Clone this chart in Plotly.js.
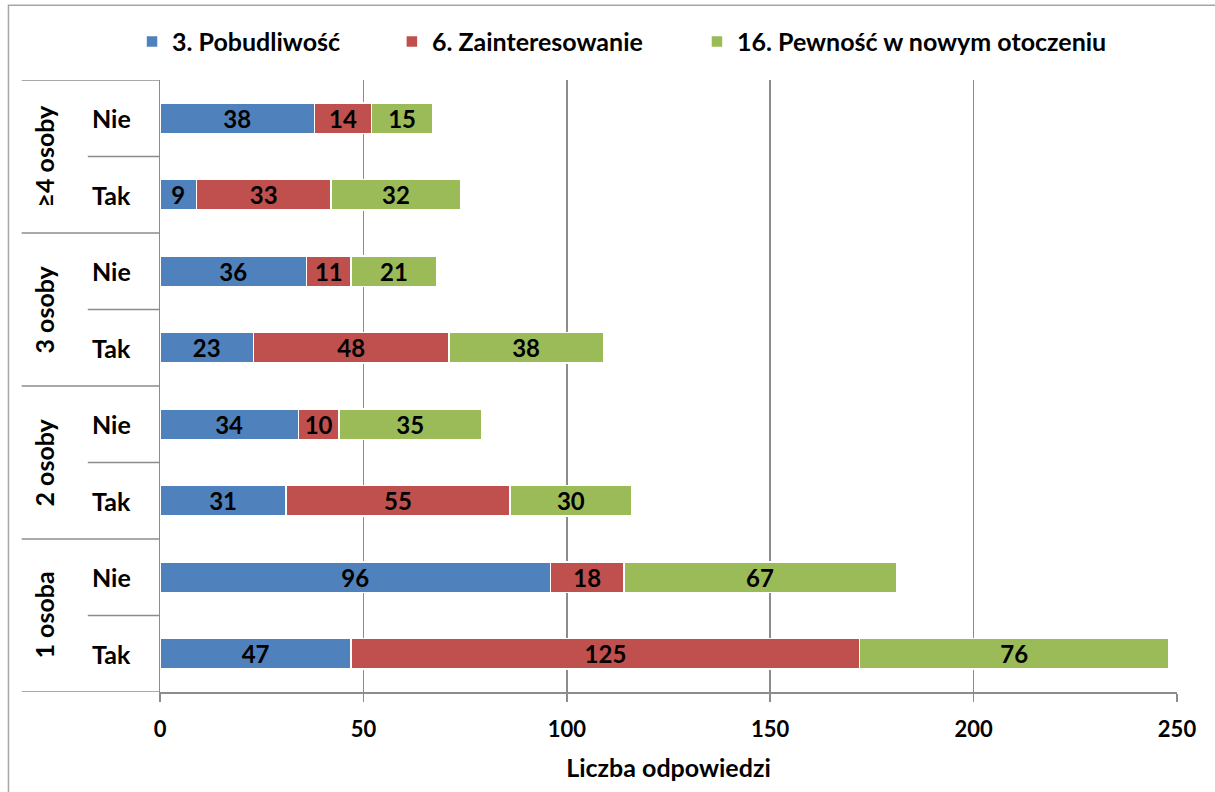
<!DOCTYPE html>
<html><head><meta charset="utf-8">
<script src="https://cdn.plot.ly/plotly-3.0.1.min.js"></script>
<style>html,body{margin:0;padding:0;background:#fff}#chart{width:1215px;height:792px}</style>
</head><body><div id="chart"></div>
<script>
const groups = ["1 osoba","2 osoby","3 osoby","≥4 osoby"];
const subs = ["Tak","Nie"];
const seriesNames = ["3. Pobudliwość","6. Zainteresowanie","16. Pewność w nowym otoczeniu"];
const pobudliwosc = [47,96,31,34,23,36,9,38];
const zainteresowanie = [125,18,55,10,48,11,33,14];
const pewnosc = [76,67,30,35,38,21,32,15];
const colors = ["#4f81bd","#c0504d","#9bbb59"];
const xTicks = [0,50,100,150,200,250];

const FONT = "Lato, 'Open Sans', sans-serif";
const rows = [];
groups.forEach(g => subs.forEach(s => rows.push({g, s})));
const yIdx = rows.map((r,i)=>i);
const seriesVals = [pobudliwosc, zainteresowanie, pewnosc];
const legendIds = ['legend','legend2','legend3'];
const legendX = [-0.0275, 0.228, 0.528];

const traces = seriesVals.map((vals,k)=>({
  type:'bar', orientation:'h', name:seriesNames[k],
  x:vals, y:yIdx, width:0.4, legend:legendIds[k],
  marker:{color:colors[k], line:{color:'#ffffff', width:1.5}},
  text:vals.map(String), textposition:'inside', insidetextanchor:'middle',
  textangle:0, constraintext:'none',
  textfont:{family:FONT, size:24, color:'#000', weight:'bold'},
  hoverinfo:'x+name'
}));

const shapes = [];
const annotations = [];
// outer border
shapes.push({type:'rect', xref:'paper', yref:'paper', x0:-0.149, x1:1.05, y0:-0.167, y1:1.122, line:{color:'#a6a6a6', width:1.5}, layer:'below'});
// category boundary lines in label area
for (let b=0; b<=rows.length; b++){
  const yv = b-0.5;
  const isGroup = (b % subs.length) === 0;
  shapes.push({type:'line', xref:'paper', yref:'y', x0: isGroup ? -0.136 : -0.071, x1:0, y0:yv, y1:yv, line:{color:'#8c8c8c', width:1.5}});
}
// sub labels
rows.forEach((r,i)=>{
  annotations.push({xref:'paper', yref:'y', x:-0.048, y:i, text:r.s, showarrow:false,
    font:{family:FONT, size:25, color:'#000', weight:'bold'}, xanchor:'center', yanchor:'middle'});
});
// group labels
groups.forEach((g,gi)=>{
  annotations.push({xref:'paper', yref:'y', x:-0.115, y:gi*subs.length + (subs.length-1)/2, text:g, showarrow:false, textangle:-90,
    font:{family:FONT, size:25, color:'#000', weight:'bold'}, xanchor:'center', yanchor:'middle'});
});

const layout = {
  width:1215, height:792,
  margin:{l:160, r:38, t:80, b:100},
  paper_bgcolor:'#fff', plot_bgcolor:'#fff',
  barmode:'stack',
  font:{family:FONT, size:20, color:'#000'},
  xaxis:{range:[0,250], tickvals:xTicks, ticktext:xTicks.map(String),
    showgrid:true, gridcolor:'#8c8c8c', gridwidth:1.5,
    showline:true, linecolor:'#8c8c8c', linewidth:1.5,
    ticks:'outside', ticklen:8, tickcolor:'#8c8c8c', tickwidth:1.5,
    ticklabelstandoff:9,
    zeroline:false, fixedrange:true,
    tickfont:{family:FONT, size:22, color:'#000', weight:'bold'},
    title:{text:'Liczba odpowiedzi', font:{family:FONT, size:25, color:'#000', weight:'bold'}, standoff:18}},
  yaxis:{range:[-0.5, rows.length-0.5], tickvals:yIdx, showticklabels:false,
    showgrid:false, zeroline:false, showline:true, linecolor:'#8c8c8c', linewidth:1.5, ticks:'', fixedrange:true},
  shapes, annotations,
  showlegend:true
};
legendIds.forEach((id,k)=>{
  layout[id] = {orientation:'h', x:legendX[k], xanchor:'left', y:1.025, yanchor:'bottom',
    font:{family:FONT, size:25, color:'#000', weight:'bold'}, itemwidth:30, bgcolor:'rgba(0,0,0,0)'};
});
Plotly.newPlot('chart', traces, layout, {displayModeBar:false, staticPlot:true});
</script></body></html>
